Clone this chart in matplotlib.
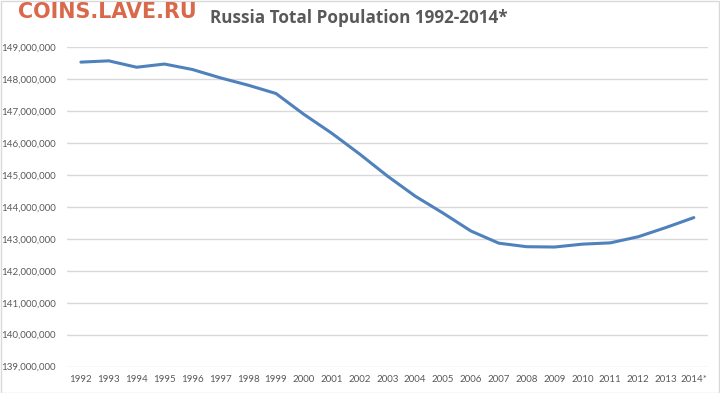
import matplotlib.pyplot as plt
from matplotlib.ticker import FuncFormatter
from matplotlib.patches import Rectangle

years = ['1992', '1993', '1994', '1995', '1996', '1997', '1998', '1999', '2000', '2001', '2002',
         '2003', '2004', '2005', '2006', '2007', '2008', '2009', '2010', '2011', '2012', '2013', '2014*']
population = [148520000, 148560000, 148360000, 148460000, 148290000, 148030000, 147800000,
              147540000, 146890000, 146300000, 145650000, 144960000, 144330000, 143800000,
              143240000, 142860000, 142750000, 142740000, 142830000, 142870000, 143060000,
              143350000, 143660000]

fig = plt.figure(figsize=(7.2, 3.93), dpi=100)
fig.patches.append(Rectangle((0.001, 0.001), 0.997, 0.997, transform=fig.transFigure,
                             fill=False, edgecolor='#d9d9d9', linewidth=1))
ax = fig.add_axes([0.093, 0.067, 0.89, 0.814])

x = range(len(years))
ax.plot(x, population, color='#4f81bd', linewidth=2.2, solid_capstyle='round')

ax.set_xlim(-0.5, len(years) - 0.5)
ax.set_ylim(139000000, 149000000)
ax.set_yticks(range(139000000, 149000001, 1000000))
ax.yaxis.set_major_formatter(FuncFormatter(lambda v, p: f'{int(v):,}'))
ax.set_xticks(list(x))
ax.set_xticklabels(years)

ax.grid(axis='y', color='#d9d9d9', linewidth=1)
ax.set_axisbelow(True)
for s in ax.spines.values():
    s.set_visible(False)
ax.tick_params(length=0, labelsize=7, labelcolor='#595959')
for lab in ax.get_xticklabels() + ax.get_yticklabels():
    lab.set_family('Lato')
ax.tick_params(axis='y', pad=8)
ax.tick_params(axis='x', pad=6)

fig.text(0.498, 0.955, 'Russia Total Population 1992-2014*', ha='center', va='center',
         fontsize=12.3, color='#595959', fontweight='bold', family='Open Sans')
fig.text(0.025, 0.969, 'COINS.LAVE.RU', ha='left', va='center', fontsize=14.9,
         color='#d9694a', fontweight='bold', family='DejaVu Sans')

plt.savefig('out.png', dpi=100)
